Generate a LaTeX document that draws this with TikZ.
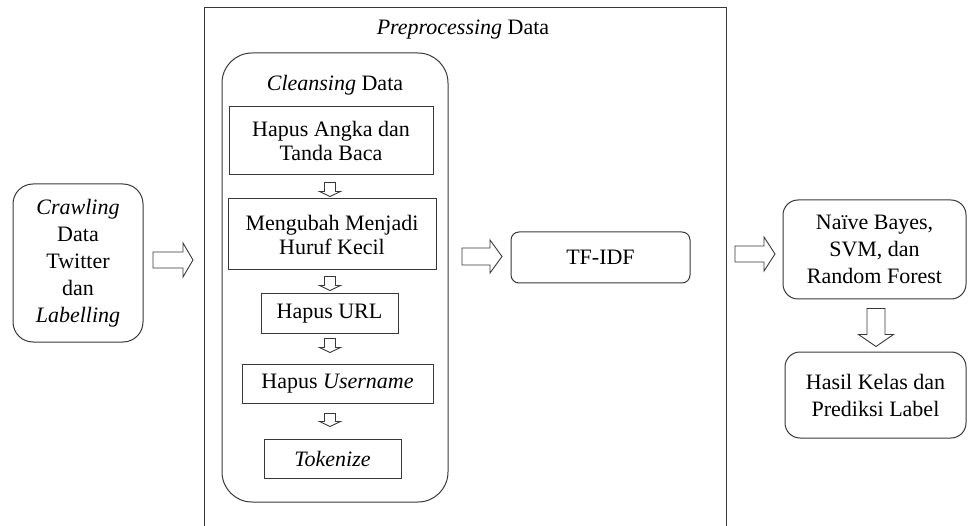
\documentclass[tikz,border=0pt]{standalone}
\usepackage{fontspec}
\setmainfont{Liberation Serif}
\usetikzlibrary{calc}
% right-pointing block arrow: #1 tail, #2 tip, #3 shaft half, #4 head half, #5 head length
\newcommand{\blockRight}[5]{%
  \draw[barrow] let \p1=#1, \p2=#2 in
    (\x1,\y1+#3) -- (\x2-#5,\y1+#3) -- (\x2-#5,\y1+#4) -- (\x2,\y1)
    -- (\x2-#5,\y1-#4) -- (\x2-#5,\y1-#3) -- (\x1,\y1-#3) -- cycle;}
% down-pointing block arrow
\newcommand{\blockDown}[5]{%
  \draw[barrow] let \p1=#1, \p2=#2 in
    (\x1-#3,\y1) -- (\x1-#3,\y2+#5) -- (\x1-#4,\y2+#5) -- (\x1,\y2)
    -- (\x1+#4,\y2+#5) -- (\x1+#3,\y2+#5) -- (\x1+#3,\y1) -- cycle;}
\begin{document}
\begin{tikzpicture}[x=1pt,y=-1pt,
  lin/.style={draw=black!78, line width=1pt},
  box/.style={lin, rectangle, align=center, inner sep=0pt,
    font=\fontsize{22}{24}\selectfont},
  rbox/.style={box, rounded corners=#1, font=\fontsize{22}{27}\selectfont},
  lbl/.style={inner sep=0pt, font=\fontsize{22}{27}\selectfont},
  barrow/.style={draw=black!78, line width=0.9pt, fill=white, line join=miter}]
\useasboundingbox (0,0) rectangle (968,526);

% outer preprocessing frame (open at the bottom)
\draw[lin] (204,540) -- (204,8) -- (726,8) -- (726,540);
\node[lbl] (pre) at (463,30) {\textit{Preprocessing} Data};

% left box
\node[rbox=20pt, minimum width=130pt, minimum height=158pt] (crawl) at (78,263)
  {\textit{Crawling}\\Data\\Twitter\\dan\\\textit{Labelling}};

% cleansing group
\node[rbox=30pt, minimum width=226pt, minimum height=449pt] (clean) at (335,277.5) {};
\node[lbl] (cltitle) at (335,85) {\textit{Cleansing} Data};

\node[box, minimum width=204pt, minimum height=68pt] (b1) at (331,141)
  {Hapus Angka dan\\Tanda Baca};
\node[box, minimum width=208pt, minimum height=71pt] (b2) at (332,234.5)
  {Mengubah Menjadi\\Huruf Kecil};
\node[box, minimum width=137pt, minimum height=39pt] (b3) at (329.5,313.5)
  {Hapus URL};
\node[box, minimum width=191pt, minimum height=39pt] (b4) at (337.5,383.5)
  {Hapus \textit{Username}};
\node[box, minimum width=137pt, minimum height=39pt] (b5) at (332.5,458.5)
  {\textit{Tokenize}};

% TF-IDF
\node[rbox=8pt, minimum width=179pt, minimum height=51pt] (tfidf) at (600.5,257.5) {TF-IDF};

% right boxes
\node[rbox=15pt, minimum width=183pt, minimum height=99pt] (nb) at (874.5,249.5)
  {Naïve Bayes,\\SVM, dan\\Random Forest};
\node[rbox=15pt, minimum width=181pt, minimum height=86pt] (hasil) at (875.5,395)
  {Hasil Kelas dan\\Prediksi Label};

% arrow end points
\coordinate (ax) at (330,0);
\coordinate (a1s) at (153,260);   \coordinate (a1e) at (193,260);
\coordinate (a2s) at (462,256.5); \coordinate (a2e) at (502,256.5);
\coordinate (a3s) at (735,254);   \coordinate (a3e) at (775,254);

\blockRight{(a1s)}{(a1e)}{8pt}{17pt}{10pt}
\blockRight{(a2s)}{(a2e)}{8.5pt}{16.5pt}{12pt}
\blockRight{(a3s)}{(a3e)}{8pt}{17pt}{11pt}

\blockDown{($(nb.south)+(1.5,9)$)}{($(hasil.north)+(0.5,-5)$)}{9pt}{17.5pt}{12pt}

\blockDown{($(b1.south -| ax)+(0,7)$)}{($(b2.north -| ax)+(0,-2)$)}{5.5pt}{10.5pt}{5pt}
\blockDown{($(b2.south -| ax)+(0,6)$)}{($(b3.north -| ax)+(0,-3)$)}{5.5pt}{10.5pt}{5pt}
\blockDown{($(b3.south -| ax)+(0,5)$)}{($(b4.north -| ax)+(0,-11)$)}{5.5pt}{10.5pt}{5pt}
\blockDown{($(b4.south -| ax)+(0,10)$)}{($(b5.north -| ax)+(0,-12)$)}{5.5pt}{10.5pt}{5pt}
\end{tikzpicture}
\end{document}
